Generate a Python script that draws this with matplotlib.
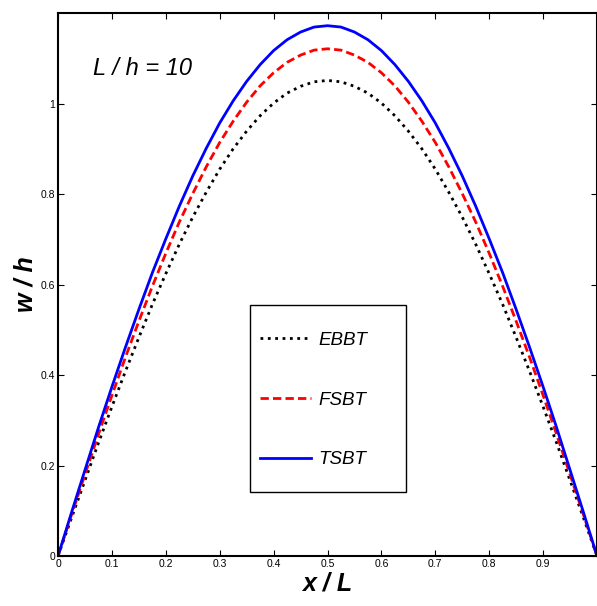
import numpy as np
import matplotlib.pyplot as plt
from matplotlib.patches import Rectangle

plt.rcParams.update({'font.family': 'Liberation Sans'})

x = [0.0, 0.025, 0.05, 0.075, 0.1, 0.125, 0.15, 0.175, 0.2, 0.225, 0.25, 0.275, 0.3, 0.325,
     0.35, 0.375, 0.4, 0.425, 0.45, 0.475, 0.5, 0.525, 0.55, 0.575, 0.6, 0.625, 0.65,
     0.675, 0.7, 0.725, 0.75, 0.775, 0.8, 0.825, 0.85, 0.875, 0.9, 0.925, 0.95, 0.975, 1.0]
ebbt = [0.0, 0.084, 0.167, 0.250, 0.330, 0.408, 0.483, 0.556, 0.624, 0.689, 0.749, 0.804,
        0.855, 0.900, 0.939, 0.973, 1.001, 1.023, 1.038, 1.048, 1.051, 1.048, 1.038, 1.023,
        1.001, 0.973, 0.939, 0.900, 0.855, 0.804, 0.749, 0.689, 0.624, 0.556, 0.483, 0.408,
        0.330, 0.250, 0.167, 0.084, 0.0]
fsbt = [0.0, 0.091, 0.180, 0.269, 0.355, 0.439, 0.519, 0.596, 0.669, 0.738, 0.801, 0.860,
        0.914, 0.961, 1.003, 1.039, 1.068, 1.091, 1.107, 1.118, 1.121, 1.118, 1.107, 1.091,
        1.068, 1.039, 1.003, 0.961, 0.914, 0.860, 0.801, 0.738, 0.669, 0.596, 0.519, 0.439,
        0.355, 0.269, 0.180, 0.091, 0.0]
tsbt = [0.0, 0.096, 0.190, 0.284, 0.374, 0.461, 0.545, 0.626, 0.701, 0.773, 0.840, 0.901,
        0.957, 1.006, 1.049, 1.086, 1.117, 1.141, 1.158, 1.169, 1.172, 1.169, 1.158, 1.141,
        1.117, 1.086, 1.049, 1.006, 0.957, 0.901, 0.840, 0.773, 0.701, 0.626, 0.545, 0.461,
        0.374, 0.284, 0.190, 0.096, 0.0]

fig = plt.figure(figsize=(5.97, 6.06), dpi=100)
ax = fig.add_axes([0.0972, 0.0825, 0.9028, 0.896])

ax.plot(x, ebbt, color='black', linestyle=':', linewidth=2, label='EBBT')
ax.plot(x, fsbt, color='red', linestyle='--', linewidth=2, dashes=(3, 1.5), label='FSBT')
ax.plot(x, tsbt, color='blue', linestyle='-', linewidth=2, label='TSBT')

ax.set_xlim(0, 1)
ax.set_ylim(0, 1.2)
ax.set_xticks([0, 0.1, 0.2, 0.3, 0.4, 0.5, 0.6, 0.7, 0.8, 0.9])
ax.set_xticklabels(['0', '0.1', '0.2', '0.3', '0.4', '0.5', '0.6', '0.7', '0.8', '0.9'])
ax.set_yticks([0, 0.2, 0.4, 0.6, 0.8, 1.0])
ax.set_yticklabels(['0', '0.2', '0.4', '0.6', '0.8', '1'])
ax.tick_params(direction='in', length=4, width=0.8, labelsize=7.5, top=True, right=True, pad=2)
for s in ax.spines.values():
    s.set_linewidth(1.5)

ax.set_xlabel('x / L', fontsize=18, fontweight='bold', fontstyle='italic', labelpad=2)
ax.set_ylabel('w / h', fontsize=18, fontweight='bold', fontstyle='italic', labelpad=2)

ax.text(0.065, 0.885, 'L / h = 10', transform=ax.transAxes, fontsize=17, fontstyle='italic')

# legend box drawn separately so the entries can sit off-centre like the original
ax.add_patch(Rectangle((0.356, 0.118), 0.289, 0.344, transform=ax.transAxes,
                       fill=False, edgecolor='black', linewidth=1.0, zorder=4))
leg = ax.legend(loc='center left', bbox_to_anchor=(0.375, 0.287), frameon=False,
                prop={'style': 'italic', 'size': 13.5}, handlelength=2.7,
                handletextpad=0.4, labelspacing=2.27, borderpad=0, borderaxespad=0)

plt.savefig('out.png', dpi=100)
